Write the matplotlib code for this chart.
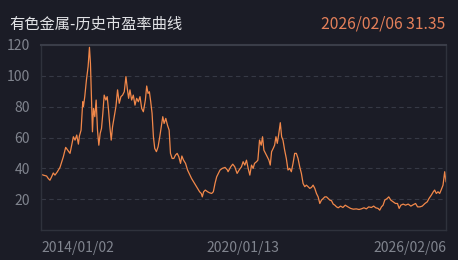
import matplotlib
matplotlib.use("Agg")
import matplotlib.pyplot as plt

plt.rcParams['font.family'] = ['Noto Sans CJK SC', 'DejaVu Sans']

title = "有色金属-历史市盈率曲线"
latest_label = "2026/02/06 31.35"
x_tick_labels = ["2014/01/02", "2020/01/13", "2026/02/06"]
x_tick_years = [2014.003, 2020.033, 2026.099]
y_ticks = [20, 40, 60, 80, 100, 120]

years = [
    2014.00, 2014.07, 2014.17, 2014.22, 2014.27, 2014.32, 2014.37, 2014.42, 2014.49, 2014.57,
    2014.67, 2014.74, 2014.80, 2014.87, 2014.92, 2014.97, 2015.02, 2015.07, 2015.12, 2015.15,
    2015.20, 2015.25, 2015.27, 2015.31, 2015.36, 2015.41, 2015.45, 2015.48, 2015.51, 2015.54,
    2015.57, 2015.61, 2015.65, 2015.69, 2015.73, 2015.77, 2015.81, 2015.85, 2015.89, 2015.94,
    2015.98, 2016.02, 2016.06, 2016.10, 2016.14, 2016.19, 2016.24, 2016.29, 2016.34, 2016.39,
    2016.44, 2016.49, 2016.54, 2016.58, 2016.62, 2016.66, 2016.71, 2016.76, 2016.81, 2016.86,
    2016.91, 2016.96, 2017.01, 2017.06, 2017.12, 2017.16, 2017.20, 2017.24, 2017.28, 2017.32,
    2017.36, 2017.40, 2017.45, 2017.50, 2017.55, 2017.60, 2017.64, 2017.68, 2017.73, 2017.78,
    2017.83, 2017.87, 2017.92, 2017.97, 2018.02, 2018.07, 2018.12, 2018.17, 2018.21, 2018.26,
    2018.32, 2018.38, 2018.44, 2018.50, 2018.56, 2018.62, 2018.68, 2018.74, 2018.79, 2018.82,
    2018.86, 2018.91, 2018.98, 2019.04, 2019.10, 2019.15, 2019.20, 2019.25, 2019.30, 2019.35,
    2019.42, 2019.50, 2019.57,
    2019.59, 2019.67, 2019.73, 2019.79, 2019.86, 2019.92, 2019.99, 2020.04, 2020.09, 2020.14,
    2020.19, 2020.24, 2020.29, 2020.34, 2020.38, 2020.44, 2020.48, 2020.53, 2020.58, 2020.62,
    2020.66, 2020.71, 2020.76, 2020.81, 2020.85, 2020.89, 2020.94, 2020.98, 2021.02, 2021.06,
    2021.10, 2021.15, 2021.19, 2021.23, 2021.28, 2021.33, 2021.38, 2021.43, 2021.48, 2021.53,
    2021.58, 2021.63, 2021.68, 2021.73, 2021.78, 2021.83, 2021.88, 2021.93, 2021.98, 2022.03,
    2022.08, 2022.13, 2022.18, 2022.23, 2022.28, 2022.33, 2022.38, 2022.43, 2022.48, 2022.53,
    2022.58, 2022.63, 2022.68, 2022.73, 2022.78, 2022.83, 2022.88, 2022.95, 2023.02, 2023.09,
    2023.17, 2023.25, 2023.33, 2023.42, 2023.50, 2023.57, 2023.65, 2023.72, 2023.79, 2023.87,
    2023.94, 2024.00, 2024.07, 2024.12, 2024.17, 2024.22, 2024.27, 2024.34, 2024.39, 2024.45,
    2024.52, 2024.59, 2024.65, 2024.70, 2024.75, 2024.82, 2024.89, 2024.97, 2025.05, 2025.12,
    2025.19, 2025.25, 2025.32, 2025.39, 2025.47, 2025.54, 2025.59, 2025.66, 2025.72, 2025.76,
    2025.81, 2025.86, 2025.91, 2025.96, 2026.01, 2026.06, 2026.099,
]

pe = [
    36.2, 35.6, 35.0, 33.4, 32.3, 34.5, 37.0, 35.6, 37.7, 40.6,
    47.5, 53.6, 51.8, 49.7, 55.0, 60.5, 58.3, 61.6, 55.7, 60.9,
    64.8, 83.2, 80.0, 86.5, 97.3, 106.0, 118.5, 108.0, 86.5, 63.7,
    78.9, 73.5, 84.3, 64.8, 55.0, 62.6, 65.9, 75.7, 87.5, 84.3,
    86.5, 77.8, 67.0, 58.3, 67.0, 73.5, 80.0, 90.9, 82.2, 86.5,
    87.5, 89.7, 99.5, 91.8, 85.4, 90.9, 84.3, 87.5, 81.0, 85.4,
    83.2, 86.5, 78.9, 76.7, 84.3, 93.4, 88.6, 89.7, 83.2, 75.7,
    60.5, 52.9, 50.8, 54.0, 60.5, 68.0, 73.5, 69.1, 72.4, 68.0,
    64.8, 49.7, 46.4, 46.4, 48.6, 49.7, 47.5, 43.2, 48.0, 45.3,
    43.2, 38.9, 36.2, 33.4, 31.3, 29.1, 26.9, 24.8, 23.7, 21.5,
    24.8, 25.9, 24.8, 24.1, 23.7, 24.8, 30.2, 34.5, 36.7, 38.9,
    40.0, 40.6, 38.9,
    37.8, 41.0, 42.7, 41.0, 36.7, 38.9, 41.0, 44.3, 42.1, 45.3,
    40.0, 35.6, 42.1, 40.0, 43.2, 44.3, 45.3, 58.3, 55.0, 60.5,
    51.8, 49.7, 47.5, 45.3, 42.1, 50.8, 53.0, 55.0, 60.5, 56.2,
    61.6, 69.6, 60.5, 58.3, 51.8, 46.4, 38.9, 40.0, 37.8, 43.2,
    49.7, 49.7, 46.4, 41.0, 36.7, 30.2, 28.1, 29.1, 28.1, 27.0,
    27.6, 29.1, 27.0, 23.7, 21.5, 17.2, 19.4, 20.4, 21.5, 21.5,
    20.4, 19.4, 19.0, 16.8, 16.1, 15.0, 14.4, 15.5, 14.6, 16.1,
    15.0, 14.0, 13.5, 13.7, 13.3, 13.7, 14.4, 13.7, 15.0, 14.6,
    15.5, 14.4, 14.0, 12.9, 15.0, 16.1, 19.4, 20.4, 21.5, 19.4,
    18.3, 17.2, 17.2, 14.0, 16.1, 16.8, 16.1, 16.8, 15.5, 16.4,
    17.2, 15.0, 15.0, 15.5, 17.2, 18.3, 20.4, 22.6, 24.8, 25.9,
    23.7, 24.8, 23.7, 26.3, 29.1, 37.8, 31.35,
]

BG = "#1b1c26"
LINE = "#f2884a"
TICK = "#80848e"
GRID = "#363945"
BORDER = "#2f323c"

fig = plt.figure(figsize=(4.58, 2.60), dpi=100, facecolor=BG)
ax = fig.add_axes([41 / 458, 1 - 230 / 260, 405 / 458, 185 / 260])
ax.set_facecolor(BG)

ax.plot(years, pe, color=LINE, lw=0.9, solid_joinstyle="round")

ax.set_xlim(x_tick_years[0], x_tick_years[-1])
ax.set_ylim(0, 120)
ax.set_yticks(y_ticks)
ax.set_yticklabels([str(v) for v in y_ticks])
ax.tick_params(axis="y", length=0, pad=8, colors=TICK, labelsize=10)
ax.tick_params(axis="x", length=0, pad=8, colors=TICK, labelsize=10)
ax.set_xticks(x_tick_years)
ax.set_xticklabels(x_tick_labels)
xl = ax.get_xticklabels()
xl[0].set_horizontalalignment("left")
xl[1].set_horizontalalignment("center")
xl[2].set_horizontalalignment("right")

for v in y_ticks[:-1]:
    ax.axhline(v, color=GRID, lw=0.8, ls=(0, (4, 3)), zorder=0)

for s in ax.spines.values():
    s.set_color(BORDER)
    s.set_linewidth(1.0)
ax.spines["top"].set_color("#3a3d48")
ax.spines["top"].set_linewidth(1.5)

fig.text(9 / 458, 1 - 24 / 260, title, color="#e2e3e6", fontsize=11, va="center", ha="left")
fig.text(445 / 458, 1 - 24 / 260, latest_label, color="#e5805a", fontsize=11.3, va="center", ha="right")

fig.savefig("out.png", dpi=100, facecolor=BG)
